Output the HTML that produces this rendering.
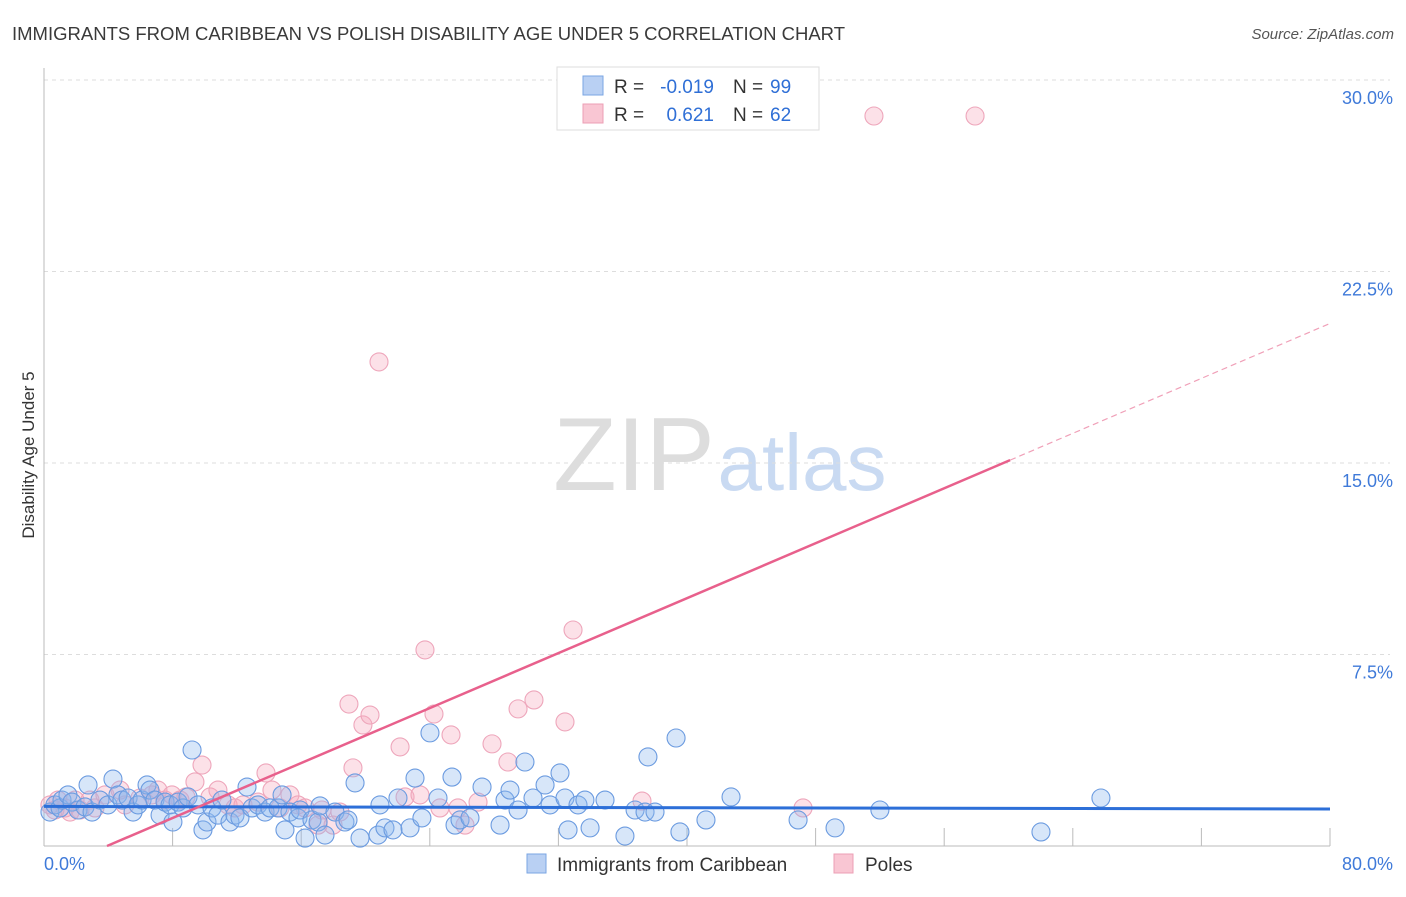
<!DOCTYPE html>
<html><head><meta charset="utf-8">
<style>
body{margin:0;background:#fff;font-family:"Liberation Sans",sans-serif;}
svg text{font-family:"Liberation Sans",sans-serif;}
</style></head>
<body>
<svg id="chart" width="1406" height="892" viewBox="0 0 1406 892" xmlns="http://www.w3.org/2000/svg">
<text x="12" y="40" font-size="18.5" fill="#3a3a3a" textLength="833" lengthAdjust="spacingAndGlyphs">IMMIGRANTS FROM CARIBBEAN VS POLISH DISABILITY AGE UNDER 5 CORRELATION CHART</text>
<text x="1394" y="39" font-size="15" fill="#555" text-anchor="end" font-style="italic">Source: ZipAtlas.com</text>
<g>
<text x="634" y="490" font-size="104" fill="#ddd" text-anchor="middle" font-family="Liberation Serif,serif">ZIP</text>
<text x="802" y="490" font-size="80" fill="#c9daf2" text-anchor="middle">atlas</text>
</g>
<g id="grid"></g>
<g id="axes"></g>
<g id="pts"></g>
<g id="lines"></g>
<text transform="translate(34,455) rotate(-90)" font-size="17" fill="#333" text-anchor="middle">Disability Age Under 5</text>
<g>
<rect x="557" y="67" width="262" height="63" fill="#fff" stroke="#ddd"/>
<rect x="583" y="76" width="20" height="19" fill="#b9d0f3" stroke="#7aa6e3"/>
<rect x="583" y="104" width="20" height="19" fill="#f9c6d3" stroke="#ec9fb5"/>
<text x="614" y="93" font-size="19" fill="#333">R =</text>
<text x="714" y="93" font-size="19" fill="#2f6fd6" text-anchor="end">-0.019</text>
<text x="733" y="93" font-size="19" fill="#333">N =</text>
<text x="770" y="93" font-size="19" fill="#2f6fd6">99</text>
<text x="614" y="121" font-size="19" fill="#333">R =</text>
<text x="714" y="121" font-size="19" fill="#2f6fd6" text-anchor="end">0.621</text>
<text x="733" y="121" font-size="19" fill="#333">N =</text>
<text x="770" y="121" font-size="19" fill="#2f6fd6">62</text>
</g>
<g>
<rect x="527" y="854" width="19" height="19" fill="#b9d0f3" stroke="#7aa6e3"/>
<text x="557" y="871" font-size="19" fill="#333">Immigrants from Caribbean</text>
<rect x="834" y="854" width="19" height="19" fill="#f9c6d3" stroke="#ec9fb5"/>
<text x="865" y="871" font-size="19" fill="#333">Poles</text>
</g>
</svg>
<script>
const yTicks=[7.5,15,22.5,30];
const yTickLabels=["7.5%","15.0%","22.5%","30.0%"];
const xEndLabels=["0.0%","80.0%"];
const blueX=[0.37,0.68,1.0,1.12,1.49,1.74,2.12,2.55,2.74,2.99,3.48,3.98,4.29,4.6,4.85,5.23,5.54,5.85,6.1,6.41,6.59,6.9,7.22,7.53,7.84,8.02,8.34,8.65,8.96,9.21,9.58,9.89,10.14,10.45,10.82,11.07,11.57,11.88,12.19,12.63,12.94,13.31,13.75,14.06,14.56,14.81,14.99,15.3,15.8,15.93,16.24,16.67,17.05,17.17,17.48,18.1,18.72,18.91,19.35,19.66,20.78,20.9,21.21,21.71,22.02,22.77,23.08,23.51,24.01,24.51,25.38,25.57,25.88,26.5,27.25,28.37,28.68,28.99,29.49,29.92,30.42,31.17,31.48,32.1,32.41,32.6,33.22,33.65,33.97,34.9,36.14,36.77,37.39,37.57,38.01,39.32,39.56,41.18,42.74,46.91,49.21,52.0,62.02,65.75];
const blueY=[1.33,1.61,1.49,1.8,2.0,1.72,1.41,1.53,2.39,1.33,1.8,1.61,2.62,2.0,1.8,1.88,1.33,1.61,1.8,2.39,2.19,1.8,1.21,1.72,1.61,0.94,1.72,1.49,1.92,3.76,1.61,0.63,0.94,1.49,1.21,1.8,0.94,1.21,1.1,2.31,1.49,1.61,1.33,1.49,1.49,2.0,0.63,1.33,1.1,1.41,0.31,1.02,0.94,1.57,0.43,1.33,0.94,1.02,2.47,0.31,0.43,1.61,0.71,0.63,1.88,0.71,2.66,1.1,4.43,1.88,2.7,0.82,1.02,1.1,2.31,0.82,1.8,2.19,1.41,3.29,1.88,2.39,1.61,2.86,1.88,0.63,1.61,1.8,0.71,1.8,0.39,1.41,1.33,3.49,1.33,4.23,0.55,1.02,1.92,1.02,0.71,1.41,0.55,1.88];
const pinkX=[0.37,0.68,0.87,1.31,1.62,1.93,2.24,2.86,3.17,3.79,4.73,5.04,5.97,6.72,7.09,7.53,7.96,8.46,8.83,9.39,9.83,10.33,10.82,11.45,11.88,12.38,13.31,13.81,14.18,14.68,15.3,15.8,16.24,17.05,17.29,17.98,18.41,18.97,19.22,19.84,20.28,20.84,22.15,22.46,23.39,23.7,24.26,24.63,25.32,25.75,26.19,27.0,27.87,28.86,29.49,30.48,32.41,32.91,37.2,47.22,51.63,57.92];
const pinkY=[1.61,1.41,1.8,1.49,1.33,1.8,1.41,1.8,1.49,2.0,2.19,1.61,1.88,2.0,2.19,1.8,2.0,1.8,1.92,2.51,3.17,1.92,2.19,1.61,1.49,1.61,1.72,2.86,2.19,1.49,2.0,1.61,1.49,0.82,1.41,0.82,1.33,5.56,3.06,4.74,5.13,18.96,3.88,1.92,2.0,7.68,5.17,1.49,4.35,1.49,0.82,1.72,4.0,3.29,5.37,5.72,4.86,8.46,1.76,1.49,28.59,28.59];
const blueTrend=[1.55,1.45];
const pinkTrendX=[3.92,60.1,80];
const pinkSlope=0.269;

const X0=44,X1=1330,Y0=846,Ytop=80;
const sx=v=>X0+(X1-X0)*v/80;
const sy=v=>Y0-(Y0-Ytop)*v/30;
const NS="http://www.w3.org/2000/svg";
function mk(parent,tag,attrs){const e=document.createElementNS(NS,tag);for(const k in attrs)e.setAttribute(k,attrs[k]);document.getElementById(parent).appendChild(e);return e;}

yTicks.forEach((t,i)=>{
  const l=mk('grid','line',{x1:X0,x2:X1+60,y1:sy(t),y2:sy(t),stroke:'#ddd','stroke-dasharray':'4 4'});
  
  
  const tx=mk('grid','text',{x:1393,y:sy(t)+24,'font-size':18,fill:'#3f7ad9','text-anchor':'end'});
  tx.textContent=yTickLabels[i];
  
  
});
const ax=mk('axes','line',{x1:X0,x2:X0,y1:68,y2:Y0,stroke:'#bbb'});


const bx=mk('axes','line',{x1:X0,x2:X1,y1:Y0,y2:Y0,stroke:'#bbb'});


for(let k=1;k<=10;k++){
  const t=mk('axes','line',{x1:sx(8*k),x2:sx(8*k),y1:Y0,y2:Y0-18,stroke:'#bbb'});
  
  
}
const xl0=mk('axes','text',{x:44,y:870,'font-size':18,fill:'#3f7ad9'});xl0.textContent=xEndLabels[0];


const xl1=mk('axes','text',{x:1393,y:870,'font-size':18,fill:'#3f7ad9','text-anchor':'end'});xl1.textContent=xEndLabels[1];



pinkX.forEach((x,i)=>{
  const c=mk('pts','circle',{cx:sx(x),cy:sy(pinkY[i]),r:9,fill:'rgba(246,168,190,0.35)',stroke:'#eea6bb','stroke-width':1.1});
  
  
});
blueX.forEach((x,i)=>{
  const c=mk('pts','circle',{cx:sx(x),cy:sy(blueY[i]),r:9,fill:'rgba(140,182,238,0.35)',stroke:'#6b9be0','stroke-width':1.1});
  
  
});
const bl=mk('lines','line',{x1:sx(0),y1:sy(blueTrend[0]),x2:sx(80),y2:sy(blueTrend[1]),stroke:'#2d6fd8','stroke-width':3});


const py=x=>pinkSlope*(x-pinkTrendX[0]);
const pl=mk('lines','line',{x1:sx(pinkTrendX[0]),y1:sy(0),x2:sx(pinkTrendX[1]),y2:sy(py(pinkTrendX[1])),stroke:'#e8608c','stroke-width':2.5});


const pd=mk('lines','line',{x1:sx(pinkTrendX[1]),y1:sy(py(pinkTrendX[1])),x2:sx(pinkTrendX[2]),y2:sy(py(pinkTrendX[2])),stroke:'#f0a0b8','stroke-width':1.2,'stroke-dasharray':'6 4'});


</script>
</body></html>
